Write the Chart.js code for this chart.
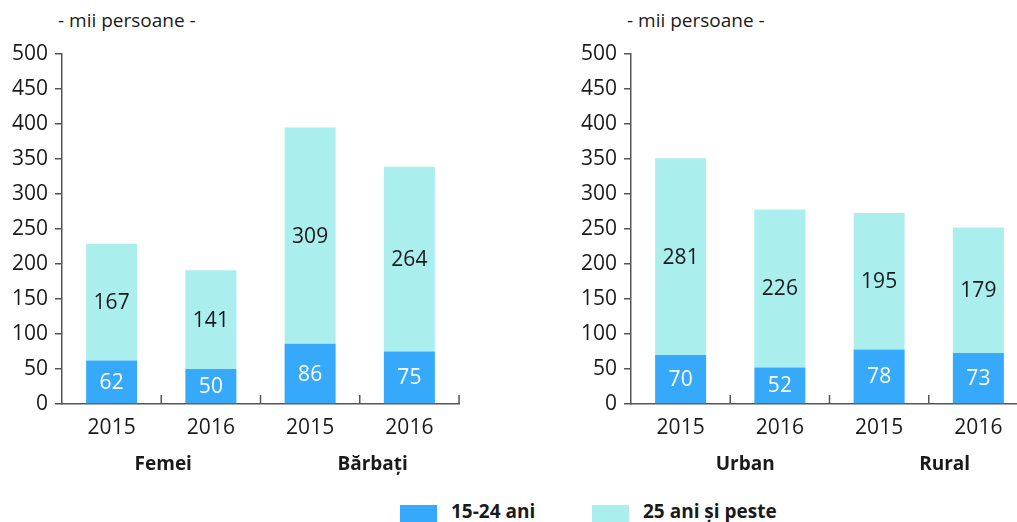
<!DOCTYPE html>
<html>
<head>
<meta charset="utf-8">
<script src="https://cdn.jsdelivr.net/npm/chart.js@4.4.1/dist/chart.umd.min.js"></script>
<style>
  body { margin: 0; width: 1017px; height: 522px; overflow: hidden; background: #fff; position: relative; font-family: "Open Sans", sans-serif; color: #1a1a1a; }
  .panel { position: absolute; top: 0; width: 470px; height: 490px; }
  .unit { position: absolute; top: 8px; font-size: 19px; line-height: 24px; white-space: nowrap; }
  .box { position: absolute; top: 505px; width: 37px; height: 20px; }
  .legtxt { position: absolute; top: 499px; font-weight: bold; font-size: 19px; line-height: 24px; white-space: nowrap; }
</style>
</head>
<body>
<div class="unit" style="left:58px">- mii persoane -</div>
<div class="unit" style="left:627px">- mii persoane -</div>
<div class="panel" style="left:0"><canvas id="sex"></canvas></div>
<div class="panel" style="left:569px"><canvas id="area"></canvas></div>
<div class="box" style="left:400px;background:#36a9fa"></div>
<div class="legtxt" style="left:451px">15-24 ani</div>
<div class="box" style="left:592px;background:#aaeeee"></div>
<div class="legtxt" style="left:643px">25 ani și peste</div>
<script>
const years = ["2015", "2016", "2015", "2016"];
const sexGroups = ["Femei", "Bărbați"];
const sexYoung = [62, 50, 86, 75];
const sexOlder = [167, 141, 309, 264];
const areaGroups = ["Urban", "Rural"];
const areaYoung = [70, 52, 78, 73];
const areaOlder = [281, 226, 195, 179];
const seriesNames = ["15-24 ani", "25 ani și peste"];

Chart.defaults.font.family = '"Open Sans", sans-serif';
Chart.defaults.color = "#1a1a1a";
Chart.defaults.animation = false;
Chart.defaults.responsive = true;
Chart.defaults.maintainAspectRatio = false;

const axisColor = "#555";

// value inside each stacked segment
const valueLabels = {
  id: "valueLabels",
  afterDatasetsDraw(chart) {
    const ctx = chart.ctx;
    ctx.save();
    ctx.font = '21px "Open Sans", sans-serif';
    ctx.textAlign = "center";
    ctx.textBaseline = "middle";
    chart.data.datasets.forEach((ds, i) => {
      ctx.fillStyle = i === 0 ? "#fff" : "#1a1a1a";
      chart.getDatasetMeta(i).data.forEach((bar, j) => {
        ctx.fillText(ds.data[j], bar.x, (bar.y + bar.base) / 2 + 1);
      });
    });
    ctx.restore();
  }
};

// short ticks pointing up at category boundaries + bold group names
const groupAxis = {
  id: "groupAxis",
  afterDraw(chart, args, opts) {
    const ctx = chart.ctx, x = chart.scales.x, bottom = chart.chartArea.bottom;
    ctx.save();
    ctx.strokeStyle = axisColor;
    ctx.lineWidth = 1.5;
    for (let i = 1; i <= chart.data.labels.length; i++) {
      const px = x.getPixelForValue(i - 0.5);
      ctx.beginPath();
      ctx.moveTo(px, bottom);
      ctx.lineTo(px, bottom - 9);
      ctx.stroke();
    }
    ctx.font = 'bold 19px "Open Sans", sans-serif';
    ctx.fillStyle = "#1a1a1a";
    ctx.textAlign = "center";
    ctx.textBaseline = "middle";
    opts.names.forEach((name, k) => {
      ctx.fillText(name, x.getPixelForValue(opts.pos[k]), bottom + 61);
    });
    ctx.restore();
  }
};

function panel(id, young, older, names, pos) {
  new Chart(document.getElementById(id), {
    type: "bar",
    data: {
      labels: years,
      datasets: [
        { label: seriesNames[0], data: young, backgroundColor: "#36a9fa" },
        { label: seriesNames[1], data: older, backgroundColor: "#aaeeee" }
      ]
    },
    plugins: [valueLabels, groupAxis],
    options: {
      layout: { padding: { top: 54, left: 0, right: 11, bottom: 0 } },
      datasets: { bar: { barPercentage: 0.514, categoryPercentage: 1, borderWidth: 0 } },
      plugins: {
        legend: { display: false },
        tooltip: { enabled: false },
        groupAxis: { names, pos }
      },
      scales: {
        x: {
          stacked: true,
          grid: { display: false },
          border: { display: true, color: axisColor, width: 1.5 },
          ticks: { font: { size: 21 }, padding: 3, color: "#1a1a1a" },
          afterFit(s) { s.height = 86; }
        },
        y: {
          stacked: true,
          min: 0,
          max: 500,
          grid: { drawOnChartArea: false, drawTicks: true, tickLength: 7, color: axisColor, lineWidth: 1.5 },
          border: { display: true, color: axisColor, width: 1.5 },
          ticks: { stepSize: 50, font: { size: 21 }, padding: 7, color: "#1a1a1a" },
          afterFit(s) { s.width = 62; }
        }
      }
    }
  });
}

panel("sex", sexYoung, sexOlder, sexGroups, [0.52, 2.63]);
panel("area", areaYoung, areaOlder, areaGroups, [0.65, 2.66]);
</script>
</body>
</html>
